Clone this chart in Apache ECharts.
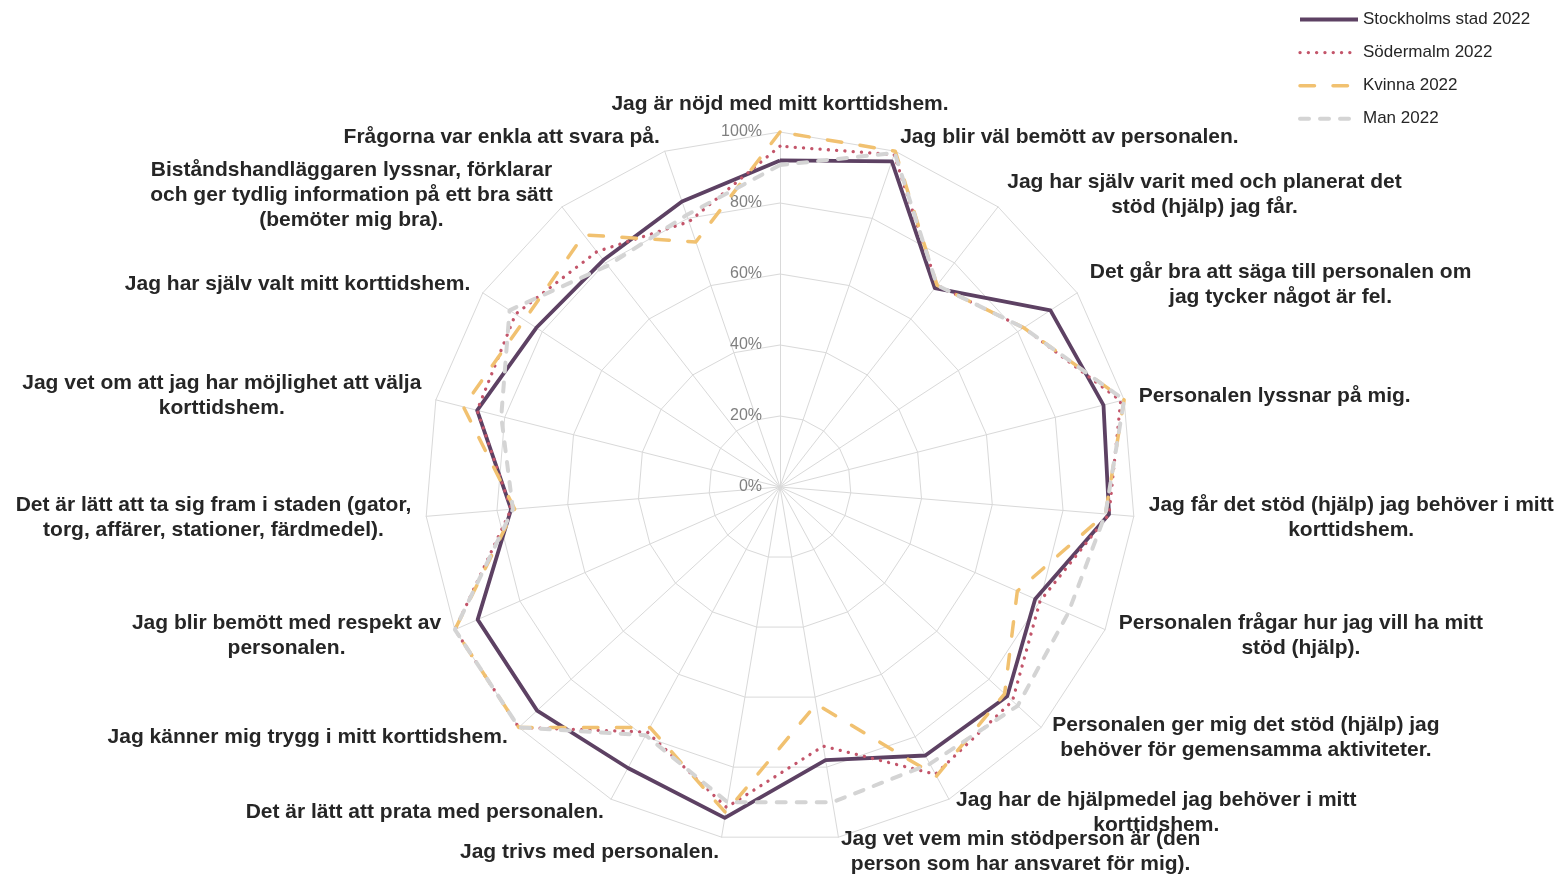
<!DOCTYPE html>
<html><head><meta charset="utf-8">
<script src="https://cdn.jsdelivr.net/npm/echarts@6/dist/echarts.min.js"></script>
<style>html,body{margin:0;padding:0;background:#fff}#c{width:1565px;height:875px}</style>
</head><body><div id="c"></div>
<script>
// Indicators in clockwise order starting at the top
const categories = [
  'Jag är nöjd med mitt korttidshem.',
  'Jag blir väl bemött av personalen.',
  'Jag har själv varit med och planerat det\nstöd (hjälp) jag får.',
  'Det går bra att säga till personalen om\njag tycker något är fel.',
  'Personalen lyssnar på mig.',
  'Jag får det stöd (hjälp) jag behöver i mitt\nkorttidshem.',
  'Personalen frågar hur jag vill ha mitt\nstöd (hjälp).',
  'Personalen ger mig det stöd (hjälp) jag\nbehöver för gemensamma aktiviteter.',
  'Jag har de hjälpmedel jag behöver i mitt\nkorttidshem.',
  'Jag vet vem min stödperson är (den\nperson som har ansvaret för mig).',
  'Jag trivs med personalen.',
  'Det är lätt att prata med personalen.',
  'Jag känner mig trygg i mitt korttidshem.',
  'Jag blir bemött med respekt av\npersonalen.',
  'Det är lätt att ta sig fram i staden (gator,\ntorg, affärer, stationer, färdmedel).',
  'Jag vet om att jag har möjlighet att välja\nkorttidshem.',
  'Jag har själv valt mitt korttidshem.',
  'Biståndshandläggaren lyssnar, förklarar\noch ger tydlig information på ett bra sätt\n(bemöter mig bra).',
  'Frågorna var enkla att svara på.'
];
const seriesNames = ['Stockholms stad 2022', 'Södermalm 2022', 'Kvinna 2022', 'Man 2022'];
const stockholm = [92, 97, 71, 91, 94, 93, 78.5, 87, 86, 78, 94.5, 90, 93, 93, 76, 88, 82, 81, 85];
const sodermalm = [96, 99, 72, 82, 99, 93, 80, 89, 92, 74, 91.5, 78.5, 100, 100, 76, 88, 89, 84, 79];
const kvinna    = [100, 100, 72, 82, 100, 92, 73, 86, 92.6, 62, 93, 77, 100, 100, 75, 92, 86, 90, 73];
const man       = [90.7, 99.5, 72, 82, 100, 92, 88.6, 91, 88.7, 90, 90, 79.5, 100, 100, 75.5, 81, 91, 79, 81];
const axisMin = 0, axisMax = 100, axisSplits = 5;

const FONT = '"Liberation Sans", Arial, Helvetica, sans-serif';
// ECharts radar runs counter-clockwise; reorder so the chart reads clockwise
const order = [0];
for (let i = categories.length - 1; i >= 1; i--) order.push(i);
const pick = arr => order.map(i => arr[i]);

const indicator = order.map((i, j) => {
  const o = { name: categories[i], min: axisMin, max: axisMax };
  if (j === 0) o.axisLabel = { show: true };
  return o;
});

const styles = [
  { color: '#5d4163', width: 3.8, type: 'solid', cap: 'butt' },
  { color: '#c3556a', width: 3.3, type: [0.1, 8.2], cap: 'round' },
  { color: '#f1c170', width: 3.5, type: [14.5, 18.5], cap: 'round' },
  { color: '#d4d4d4', width: 4, type: [9, 11], cap: 'round' }
];
const dataSets = [stockholm, sodermalm, kvinna, man];

const series = [];
// legend carriers (line series, no data) so the legend shows line styles
seriesNames.forEach((n, k) => {
  series.push({
    type: 'line', name: n, data: [], symbol: 'none', xAxisIndex: 0, yAxisIndex: 0,
    itemStyle: { color: styles[k].color },
    lineStyle: { color: styles[k].color, width: styles[k].width, type: styles[k].type, cap: styles[k].cap }
  });
});
seriesNames.forEach((n, k) => {
  series.push({
    type: 'radar', name: n, symbol: 'none', silent: true,
    itemStyle: { color: styles[k].color },
    lineStyle: { color: styles[k].color, width: styles[k].width, type: styles[k].type, cap: styles[k].cap },
    data: [{ value: pick(dataSets[k]), name: n }],
    z: 2 + k
  });
});

const chart = echarts.init(document.getElementById('c'), null, { renderer: 'canvas' });
chart.setOption({
  animation: false,
  backgroundColor: '#ffffff',
  textStyle: { fontFamily: FONT },
  grid: { left: 0, top: 0, width: 1, height: 1, show: false },
  xAxis: { type: 'value', show: false },
  yAxis: { type: 'value', show: false },
  legend: {
    data: seriesNames.map((n, k) => ({
      name: n,
      itemStyle: { opacity: 0, borderWidth: 0 },
      lineStyle: { color: styles[k].color, width: styles[k].width, type: styles[k].type, cap: styles[k].cap }
    })),
    orient: 'vertical', left: 1293, top: 6,
    itemWidth: 58, itemHeight: 20, itemGap: 16.1,
    itemStyle: { opacity: 0, borderWidth: 0 },
    lineStyle: { width: 'inherit', type: 'inherit', cap: 'inherit' },
    textStyle: { fontSize: 17, color: '#262626', fontFamily: FONT }
  },
  radar: {
    center: [780, 487], radius: 355, startAngle: 90, splitNumber: axisSplits, shape: 'polygon',
    nameGap: 15,
    axisName: {
      formatter: name => name.split('\n').map(l => '{c|' + l + '}').join('\n'),
      rich: { c: { align: 'center', fontSize: 21, fontWeight: 'bold', color: '#262626', fontFamily: FONT, lineHeight: 25 } }
    },
    splitLine: { lineStyle: { color: '#d9d9d9', width: 1 } },
    splitArea: { show: false },
    axisLine: { lineStyle: { color: '#d9d9d9', width: 1 } },
    axisTick: { show: false },
    axisLabel: { show: false, formatter: '{value}%', color: '#7f7f7f', fontSize: 16, margin: 18, fontFamily: FONT },
    indicator: indicator
  },
  series: series
});
</script></body></html>
